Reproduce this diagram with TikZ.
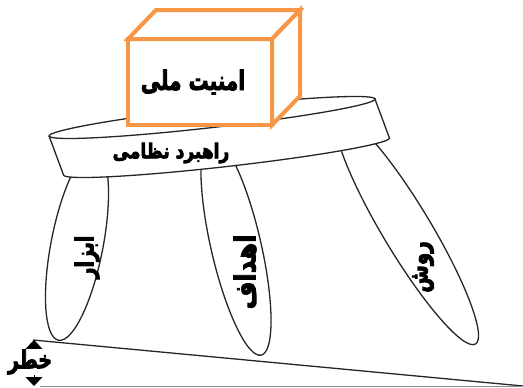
\documentclass[tikz,border=0pt]{standalone}
\usepackage{fontspec}
\usepackage{graphicx}
\usetikzlibrary{arrows.meta}
\TeXXeTstate=1
\newfontfamily\fa[Script=Arabic]{DejaVu Sans}
\newcommand\heavytext[2]{\scalebox{1}[#1]{\special{pdf:literal direct 2 Tr 0.7 w}#2\special{pdf:literal direct 0 Tr}}}
\definecolor{boxorange}{RGB}{247,150,70}
\begin{document}
\begin{tikzpicture}[x=1pt,y=-1pt,
  outline/.style={draw=black!85, line width=1.3pt},
  txt/.style={text=black, inner sep=1pt},
  cube/.style={draw=boxorange, line width=4pt, fill=white, line join=miter, outer sep=0pt},
  ftop/.style={samples=80, variable=\t},
  dtip/.tip={Triangle[width=17pt,length=9pt]},
]
\useasboundingbox (0,0) rectangle (523,388);
% ground lines
\coordinate (g1) at (33,340);
\coordinate (g2) at (523,386);
\draw[outline] (g1) -- (g2);
\coordinate (b1) at (40,386.5);
\coordinate (b2) at (523,386.5);
\draw[draw=black!45, line width=1.2pt] (b1) -- (b2);
% legs
\draw[outline, rotate around={-11:(77,245)}] (77,245) ellipse [x radius=26, y radius=97];
\draw[outline, rotate around={13:(236,246)}] (236,246) ellipse [x radius=25, y radius=112];
\draw[outline, rotate around={31:(407,230)}] (407,230) ellipse [x radius=24, y radius=133];
\node[txt, rotate=90, font={\fa\bfseries\fontsize{19}{22}\selectfont}] (abzar) at (87,257) {\heavytext{1.3}{\beginR ابزار\endR}};
\node[txt, rotate=90, font={\fa\bfseries\fontsize{24}{27}\selectfont}] (ahdaf) at (245,272) {\heavytext{1.2}{\beginR اهداف\endR}};
\node[txt, rotate=90, font={\fa\bfseries\fontsize{20}{23}\selectfont}] (ravesh) at (423,267) {\heavytext{1.3}{\beginR روش\endR}};
% band (seat)
\coordinate (tL) at (49.05,136);
\coordinate (tR) at (374.95,99);
\coordinate (bL) at (63.55,175);
\coordinate (bR) at (389.45,138);
\fill[white] plot[ftop, domain=180:360] ({212+162.95*cos(\t)+1.13*sin(\t)},{117.5-18.51*cos(\t)+9.94*sin(\t)})
  -- plot[ftop, domain=0:180] ({226.5+162.95*cos(\t)+1.13*sin(\t)},{156.5-18.51*cos(\t)+9.94*sin(\t)}) -- cycle;
\draw[outline] plot[ftop, domain=0:360] ({212+162.95*cos(\t)+1.13*sin(\t)},{117.5-18.51*cos(\t)+9.94*sin(\t)}) -- cycle;
\draw[outline] plot[ftop, domain=0:180] ({226.5+162.95*cos(\t)+1.13*sin(\t)},{156.5-18.51*cos(\t)+9.94*sin(\t)});
\draw[outline] (tL) -- (bL);
\draw[outline] (tR) -- (bR);
\node[txt, font={\fa\bfseries\fontsize{17}{20}\selectfont}] (rahbord) at (171,153) {\heavytext{1.2}{\beginR راهبرد نظامی\endR}};
% cube
\node[cube, minimum width=144pt, minimum height=86pt] (front) at (200,82) {};
\draw[cube] (front.north west) -- ++(28,-29) -- ++(144,0) -- (front.north east) -- cycle;
\draw[cube] (front.north east) -- ++(28,-29) -- ++(0,86) -- (front.south east) -- cycle;
\node[txt, font={\fa\bfseries\fontsize{20}{24}\selectfont}] (amniat) at (193,82) {\heavytext{1.35}{\beginR امنیت ملی\endR}};
% danger arrow
\coordinate (dTop) at (34,340);
\coordinate (dBot) at (34,386);
\draw[line width=0.8pt, dtip-dtip] (dTop) -- (dBot);
\node[txt, fill=white, font={\fa\bfseries\fontsize{19}{22}\selectfont}] (khatar) at (30,362) {\heavytext{1.3}{\beginR خطر\endR}};
\end{tikzpicture}
\end{document}
